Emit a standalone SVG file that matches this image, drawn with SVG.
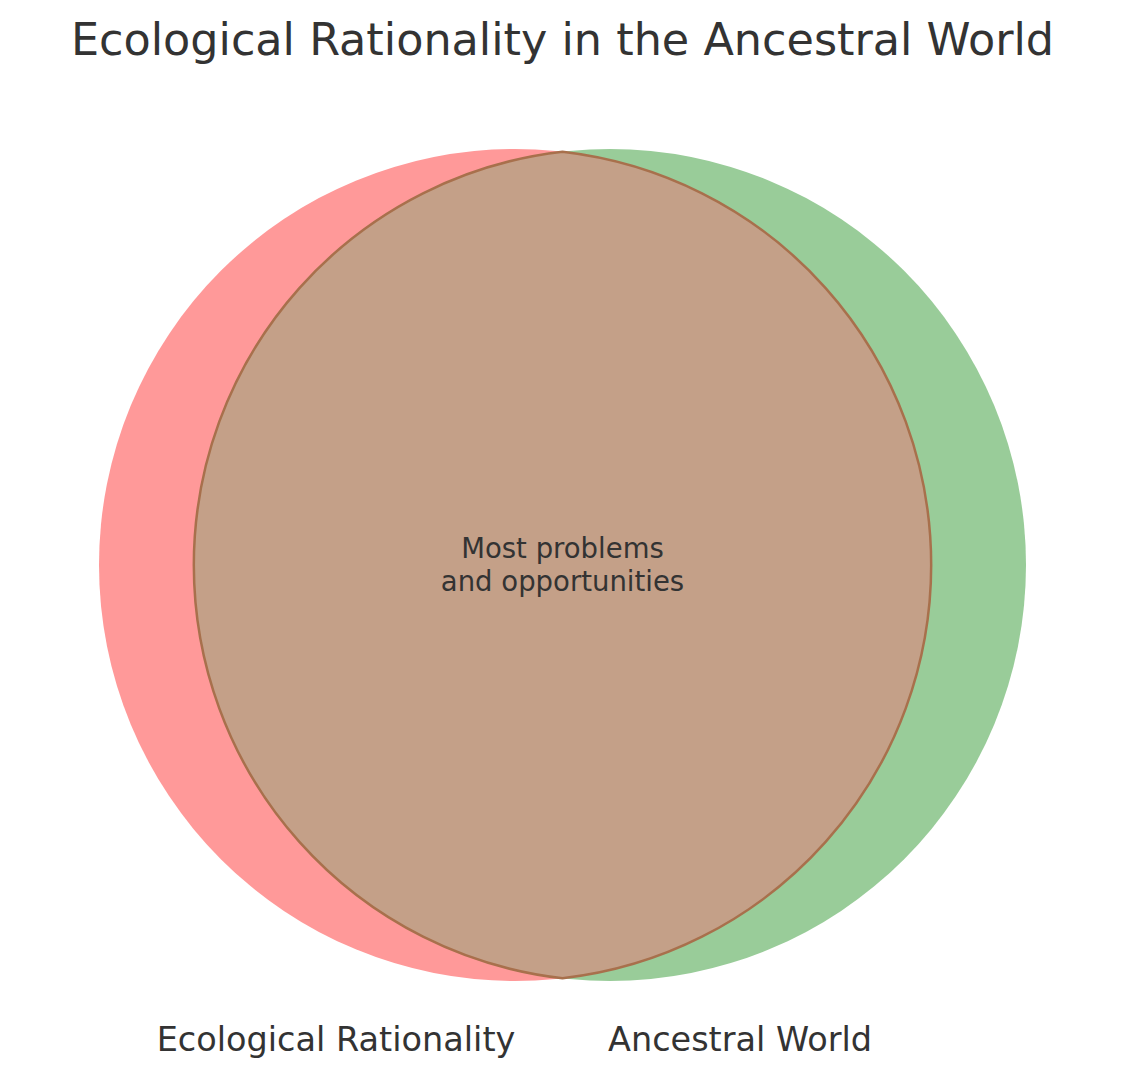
<svg xmlns="http://www.w3.org/2000/svg" width="1124" height="1081" viewBox="0 0 1124 1081">
<style>
text{font-family:"DejaVu Sans",sans-serif;fill:#333333;text-anchor:middle}
.t{font-size:44.5px}
.l{font-size:33.5px}
.s{font-size:27.5px}
</style>
<rect width="1124" height="1081" fill="#ffffff"/>
<text class="t" x="562.5" y="55">Ecological Rationality in the Ancestral World</text>
<g id="set-ecological-rationality">
<circle cx="515" cy="565" r="416" fill="#ff9999"/>
</g>
<g id="set-ancestral-world">
<circle cx="610" cy="565" r="416" fill="#99cc99"/>
</g>
<g id="intersection">
<path d="M562.5 151.7 A416 416 0 0 1 562.5 978.3 A416 416 0 0 1 562.5 151.7 Z" fill="#c4a088" stroke="#a8704c" stroke-width="2.5"/>
<text class="s" x="562.5" y="558">Most problems</text>
<text class="s" x="562.5" y="591">and opportunities</text>
</g>
<g id="labels">
<text class="l" x="336" y="1051">Ecological Rationality</text>
<text class="l" x="740" y="1051">Ancestral World</text>
</g>
<g id="connectors"></g>
</svg>
